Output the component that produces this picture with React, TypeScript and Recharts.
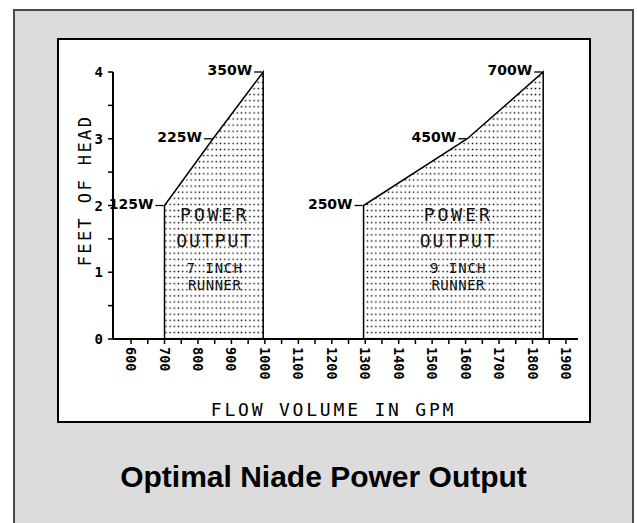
import React from 'react'
import {
    ComposedChart,
    Area,
    XAxis,
    YAxis,
    LabelList,
    ReferenceDot
} from 'recharts'

// 7 inch runner outline (flow in GPM, head in feet, power at the corner)
const runner7Gpm = [700, 700, 845, 995, 995]
const runner7Head = [0, 2, 3, 4, 0]
const runner7Watts = ['', '125W', '225W', '350W', '']

// 9 inch runner outline
const runner9Gpm = [1295, 1295, 1605, 1832, 1832]
const runner9Head = [0, 2, 3, 4, 0]
const runner9Watts = ['', '250W', '450W', '700W', '']

const xTicks = [600, 650, 700, 750, 800, 850, 900, 950, 1000, 1050, 1100, 1150, 1200, 1250, 1300,
    1350, 1400, 1450, 1500, 1550, 1600, 1650, 1700, 1750, 1800, 1850, 1900]
const xTickLabels = [600, 700, 800, 900, 1000, 1100, 1200, 1300, 1400, 1500, 1600, 1700, 1800, 1900]
const yTicks = [0, 0.5, 1, 1.5, 2, 2.5, 3, 3.5, 4]
const yTickLabels = [0, 1, 2, 3, 4]

const regionNotes = [
    { gpm: 850, head: 1.86, big: ['POWER', 'OUTPUT'], small: ['7 INCH', 'RUNNER'] },
    { gpm: 1578, head: 1.86, big: ['POWER', 'OUTPUT'], small: ['9 INCH', 'RUNNER'] },
]

const buildSeries = (gpm: number[], head: number[], watts: string[]) =>
    gpm.map((g, i) => ({ gpm: g, head: head[i], watt: watts[i] }))

const runner7 = buildSeries(runner7Gpm, runner7Head, runner7Watts)
const runner9 = buildSeries(runner9Gpm, runner9Head, runner9Watts)

const MONO = '"DejaVu Sans Mono", monospace'

const XTick = (props: any) => {
    const { x, y, payload } = props
    if (!xTickLabels.includes(payload.value)) return <g />
    return (
        <text
            x={0}
            y={0}
            transform={`translate(${x},${y}) rotate(90)`}
            textAnchor="start"
            dominantBaseline="central"
            fontFamily={MONO}
            fontWeight="bold"
            fontSize={13.5}
            fill="#000"
        >
            {payload.value}
        </text>
    )
}

const YTick = (props: any) => {
    const { x, y, payload } = props
    if (!yTickLabels.includes(payload.value)) return <g />
    return (
        <text x={x} y={y} textAnchor="end" dominantBaseline="central"
            fontFamily={MONO} fontWeight="bold" fontSize={14} fill="#000">
            {payload.value}
        </text>
    )
}

const WattLabel = (props: any) => {
    const { x, y, value } = props
    if (!value) return null
    return (
        <g>
            <line x1={x - 9} y1={y} x2={x - 1} y2={y} stroke="#000" strokeWidth={1.3} />
            <text x={x - 11} y={y - 2} textAnchor="end" dominantBaseline="central"
                fontFamily='"DejaVu Sans", sans-serif' fontWeight="bold" fontSize={14} fill="#000">
                {value}
            </text>
        </g>
    )
}

const RegionLabel = (props: any) => {
    const { viewBox, big, small } = props
    const cx = viewBox.x + (viewBox.width || 0) / 2
    const cy = viewBox.y + (viewBox.height || 0) / 2
    return (
        <g fontFamily={MONO} fill="#111" textAnchor="middle">
            <text x={cx} y={cy} dominantBaseline="central" fontSize={18} letterSpacing={3}>{big[0]}</text>
            <text x={cx} y={cy + 26} dominantBaseline="central" fontSize={18} letterSpacing={2}>{big[1]}</text>
            <text x={cx} y={cy + 53} dominantBaseline="central" fontSize={14} letterSpacing={1}>{small[0]}</text>
            <text x={cx} y={cy + 70} dominantBaseline="central" fontSize={14} letterSpacing={0.5}>{small[1]}</text>
        </g>
    )
}

const XTitle = (props: any) => {
    const { viewBox } = props
    return (
        <text x={viewBox.x + viewBox.width / 2 - 12} y={viewBox.y + 70} textAnchor="middle"
            dominantBaseline="central" fontFamily={MONO} fontSize={18} letterSpacing={2.8} fill="#000">
            FLOW VOLUME IN GPM
        </text>
    )
}

const YTitle = (props: any) => {
    const { viewBox } = props
    const x = viewBox.x + 22
    const y = viewBox.y + viewBox.height / 2 - 15
    return (
        <text x={x} y={y} transform={`rotate(-90, ${x}, ${y})`} textAnchor="middle"
            dominantBaseline="central" fontFamily={MONO} fontSize={17} letterSpacing={2.4} fill="#000">
            FEET OF HEAD
        </text>
    )
}

export default function App() {
    return (
        <div style={{ position: 'absolute', left: 0, top: 0, width: 637, height: 523, overflow: 'hidden' }}>
            <div style={{
                position: 'absolute', left: 13, top: 9, width: 621, height: 530,
                background: '#dcdcdc', border: '2px solid #4a4a4a', boxSizing: 'border-box'
            }} />
            <div style={{
                position: 'absolute', left: 57, top: 38, width: 534, height: 385,
                background: '#fff', border: '2px solid #000', boxSizing: 'border-box'
            }} />
            <div style={{ position: 'absolute', left: 0, top: 0 }}>
                <ComposedChart
                    width={637}
                    height={523}
                    margin={{ top: 72, right: 59, left: 63, bottom: 100 }}
                >
                    <defs>
                        <pattern id="dots" width={4.2} height={6.1} patternUnits="userSpaceOnUse">
                            <rect x={1.4} y={2.4} width={1.4} height={1.4} fill="#000" />
                        </pattern>
                    </defs>
                    <XAxis
                        type="number"
                        dataKey="gpm"
                        domain={[546, 1936]}
                        ticks={xTicks}
                        allowDuplicatedCategory={false}
                        height={84}
                        tickSize={5}
                        tickMargin={3}
                        axisLine={{ stroke: '#000', strokeWidth: 2 }}
                        tickLine={{ stroke: '#000', strokeWidth: 1.5 }}
                        tick={<XTick />}
                        interval={0}
                        label={<XTitle />}
                    />
                    <YAxis
                        type="number"
                        domain={[0, 4]}
                        ticks={yTicks}
                        width={50}
                        tickSize={5}
                        tickMargin={5}
                        axisLine={{ stroke: '#000', strokeWidth: 2 }}
                        tickLine={{ stroke: '#000', strokeWidth: 1.5 }}
                        tick={<YTick />}
                        interval={0}
                        label={<YTitle />}
                    />
                    <Area
                        data={runner7}
                        dataKey="head"
                        type="linear"
                        stroke="#000"
                        strokeWidth={1.5}
                        fill="url(#dots)"
                        fillOpacity={1}
                        dot={false}
                        activeDot={false}
                        isAnimationActive={false}
                    >
                        <LabelList dataKey="watt" content={<WattLabel />} />
                    </Area>
                    <Area
                        data={runner9}
                        dataKey="head"
                        type="linear"
                        stroke="#000"
                        strokeWidth={1.5}
                        fill="url(#dots)"
                        fillOpacity={1}
                        dot={false}
                        activeDot={false}
                        isAnimationActive={false}
                    >
                        <LabelList dataKey="watt" content={<WattLabel />} />
                    </Area>
                    {regionNotes.map((n) => (
                        <ReferenceDot
                            key={n.gpm}
                            x={n.gpm}
                            y={n.head}
                            r={0}
                            fill="none"
                            stroke="none"
                            label={<RegionLabel big={n.big} small={n.small} />}
                        />
                    ))}
                </ComposedChart>
            </div>
            <div style={{
                position: 'absolute', left: 13, top: 462, width: 621, textAlign: 'center',
                fontFamily: '"Liberation Sans", Arial, sans-serif', fontWeight: 'bold',
                fontSize: 30, lineHeight: '30px', color: '#000'
            }}>
                Optimal Niade Power Output
            </div>
        </div>
    )
}
